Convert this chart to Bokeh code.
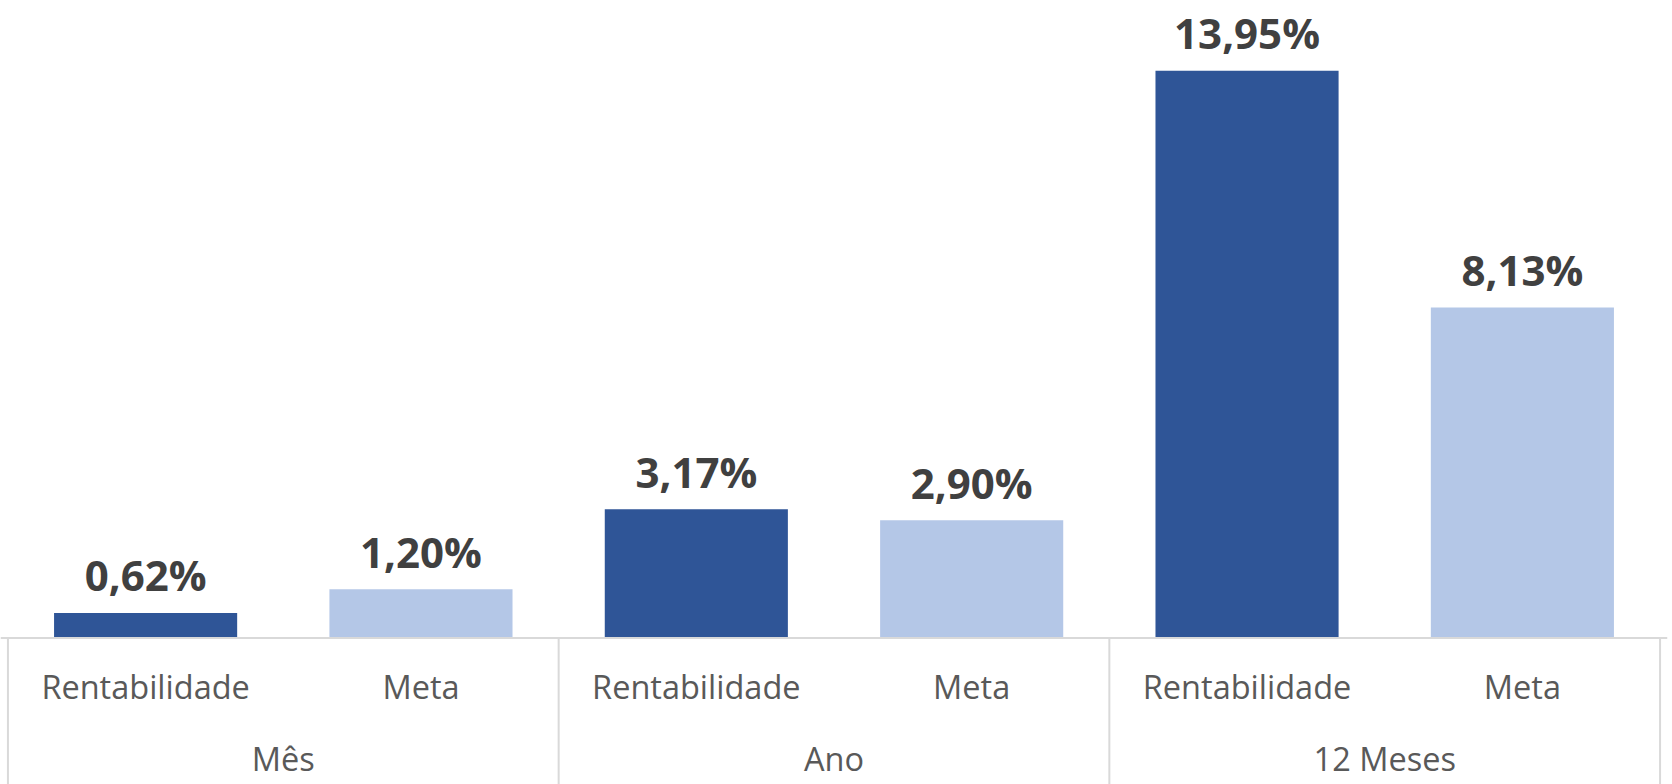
from bokeh.plotting import figure
from bokeh.models import FactorRange, Range1d, ColumnDataSource, Span
from bokeh.core.properties import value
from bokeh.embed import file_html
from bokeh.resources import INLINE

groups = ["Mês", "Ano", "12 Meses"]
series = ["Rentabilidade", "Meta"]
rentabilidade = [0.62, 3.17, 13.95]
meta = [1.20, 2.90, 8.13]
series_colors = ["#2F5597", "#B4C7E7"]

x = []
vals = []
cols = []
for i, g in enumerate(groups):
    for s, data, c in zip(series, [rentabilidade, meta], series_colors):
        x.append((g, s))
        vals.append(data[i])
        cols.append(c)
labels = [f"{v:.2f}%".replace(".", ",") for v in vals]
subs = [t[1] for t in x]

src = ColumnDataSource(dict(x=x, top=vals, color=cols, label=labels, sub=subs))

W, H = 1672, 784
x_range = FactorRange(*x, factor_padding=0, group_padding=0, range_padding=0.0090)
y_range = Range1d(-3.60, 15.68)

p = figure(width=W, height=H, x_range=x_range, y_range=y_range,
           output_backend="svg", toolbar_location=None,
           x_axis_location=None, y_axis_location=None, min_border=0,
           min_border_right=5)
p.grid.visible = False
p.outline_line_color = None
p.background_fill_color = "white"
p.border_fill_color = "white"

p.vbar(x="x", top="top", width=0.665, fill_color="color", line_color=None, source=src)

p.text(x="x", y="top", text="label", source=src, text_align="center",
       text_baseline="alphabetic", y_offset=-38, text_color="#404040",
       text_font=value("Open Sans"), text_font_style="bold", text_font_size="42px")

# category axis drawn in data space
p.add_layout(Span(location=0, dimension="width", line_color="#D9D9D9", line_width=2))
n_sub = len(series)
bounds = [i * n_sub for i in range(len(groups) + 1)]
p.segment(x0=bounds, x1=bounds, y0=[0] * len(bounds), y1=[y_range.start] * len(bounds),
          line_color="#D9D9D9", line_width=2)

p.text(x="x", y=0, text="sub", source=src, text_align="center", text_baseline="middle",
       y_offset=48, text_color="#595959", text_font=value("Open Sans"), text_font_size="32.5px")
p.text(x=groups, y=[0] * len(groups), text=groups, text_align="center", text_baseline="middle",
       y_offset=120, text_color="#595959", text_font=value("Open Sans"), text_font_size="32.5px")

open("out.html", "w").write(file_html(p, INLINE))
